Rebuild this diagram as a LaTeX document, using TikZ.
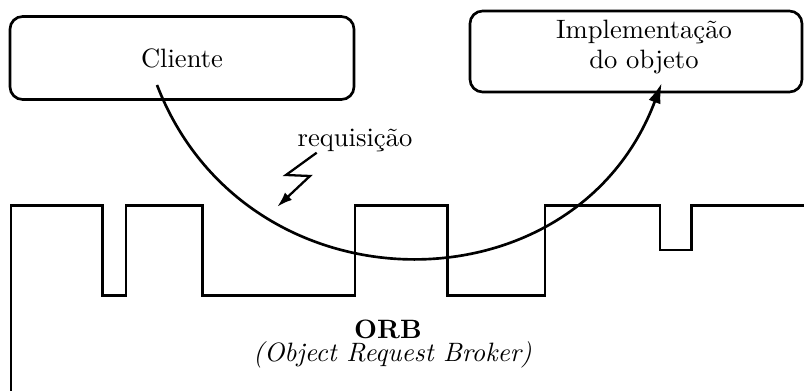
\documentclass[tikz,border=0pt]{standalone}
\usepackage{fontspec}
\usetikzlibrary{arrows.meta}
\begin{document}
\begin{tikzpicture}[x=0.395pt,y=0.395pt,
  every path/.style={line width=1.05pt},
  every node/.style={font=\fontsize{10.5pt}{12pt}\selectfont},
  box/.style={draw, rounded corners=5pt, inner sep=0pt, align=center},
  bigtip/.style={-{Latex[length=8pt,width=5pt]}},
  smalltip/.style={-{Latex[length=6pt,width=4pt]}}]
  \useasboundingbox (0,0) rectangle (804,391);

  % client and server boxes
  \node[box, minimum width=344*0.395pt, minimum height=83*0.395pt] (cli) at (182,333) {Cliente};
  \node[box, minimum width=332*0.395pt, minimum height=81*0.395pt] (impl) at (636,339.5) {};
  \node[align=center, inner sep=0pt] (implt) at (644,344.3) {Implementação\\do objeto};

  % ORB body with its sockets
  \draw (11,-5) -- (11,185.3) -- (102.3,185.3) -- (102.3,95.7) -- (126,95.7)
        -- (126,185.3) -- (202.7,185.3) -- (202.7,95.7) -- (355,95.7)
        -- (355,185.3) -- (447.3,185.3) -- (447.3,95.7) -- (545,95.7)
        -- (545,185.3) -- (660,185.3) -- (660,141) -- (691.7,141)
        -- (691.7,185.3) -- (810,185.3);
  \node[anchor=base, inner sep=0pt] (orb) at (388,52.7) {\textbf{ORB}};
  \node[anchor=base, inner sep=0pt] (orbsub) at (392.5,29.3) {\textit{(Object Request Broker)}};

  % request travelling through the ORB
  \coordinate (s) at (157,306);
  \coordinate (t) at (661.7,308);
  \draw[bigtip] (s) .. controls +(-68.9:247) and +(-110.5:247) .. (t);

  % request label with its lightning arrow
  \node (req) at (355,251) {requisição};
  \coordinate (z0) at (316.7,238.3);
  \coordinate (z1) at (286,216);
  \coordinate (z2) at (310,215);
  \coordinate (z3) at (277.3,184.3);
  \draw[smalltip, line width=0.9pt] (z0) -- (z1) -- (z2) -- (z3);
\end{tikzpicture}
\end{document}
